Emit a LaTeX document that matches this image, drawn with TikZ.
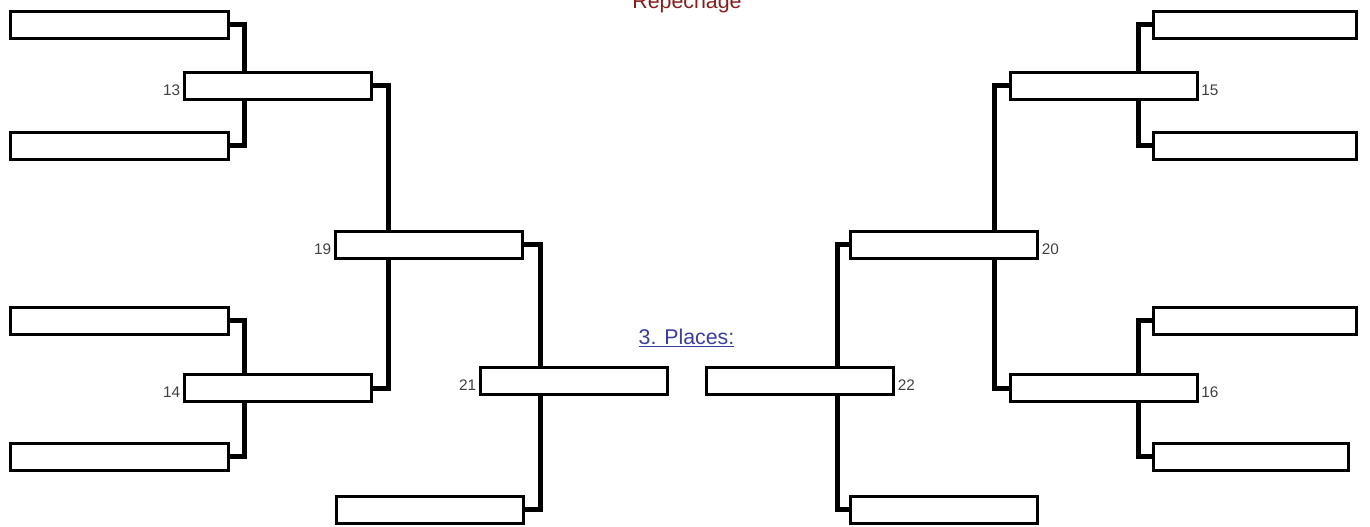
\documentclass[tikz,border=0pt]{standalone}
\usepackage{fontspec}
\setmainfont{Liberation Sans}
\usetikzlibrary{positioning,backgrounds}
\definecolor{repred}{HTML}{8B1A1A}
\definecolor{placeblue}{HTML}{3C3CA6}
\definecolor{numgray}{HTML}{404040}
\tikzset{slot/.style={draw,fill=white,line width=2.25pt,inner sep=0pt,
  minimum width=140.25pt,minimum height=20.25pt},
  outerslot/.style={slot,minimum width=163.5pt},
  rightslot/.style={slot,minimum width=152.25pt},
  link/.style={line width=3.75pt},
  num/.style={font=\fontsize{11.5}{13}\selectfont,text=numgray,inner sep=1pt},
  heading/.style={font=\fontsize{16}{19}\selectfont,inner sep=0pt}}

\begin{document}
\begin{tikzpicture}[x=0.75pt,y=-0.75pt]
\useasboundingbox (0,0) rectangle (1370,527);
\node[heading,text=repred,anchor=base] (title) at (687,8.5) {Repechage};
\node[heading,text=placeblue,anchor=base] (places) at (686.5,344) {\underline{3. Places:}};
\node[outerslot] (o1) at (119.5,25) {};
\node[outerslot] (o2) at (119.5,146) {};
\node[outerslot] (o3) at (119.5,320.5) {};
\node[outerslot] (o4) at (119.5,456.5) {};
\node[slot] (m13) at (278,86) {};
\node[slot] (m14) at (278,388) {};
\node[slot] (m19) at (429,245) {};
\node[slot] (m21) at (574,381) {};
\node[slot] (bl) at (429.5,509.5) {};
\node[slot] (m22) at (800,381) {};
\node[slot] (br) at (944,509.5) {};
\node[slot] (m20) at (944,245) {};
\node[slot] (m15) at (1103.5,86) {};
\node[slot] (m16) at (1103.5,388) {};
\node[rightslot] (o5) at (1255,25) {};
\node[rightslot] (o6) at (1255,146) {};
\node[rightslot] (o7) at (1255,320.5) {};
\node[rightslot,minimum width=146.25pt] (o8) at (1251,456.5) {};
\node[num,left=1pt of m13,yshift=-3pt] (n13) {13};
\node[num,left=1pt of m14,yshift=-3pt] (n14) {14};
\node[num,left=1pt of m19,yshift=-3pt] (n19) {19};
\node[num,left=1pt of m21,yshift=-3pt] (n21) {21};
\node[num,right=1pt of m22,yshift=-3pt] (n22) {22};
\node[num,right=1pt of m20,yshift=-3pt] (n20) {20};
\node[num,right=1pt of m15,yshift=-3pt] (n15) {15};
\node[num,right=1pt of m16,yshift=-3pt] (n16) {16};
\begin{scope}[on background layer]
\draw[link] (o1.east) -- ++(14,0) |- (o2.east);
\draw[link] (o3.east) -- ++(14,0) |- (o4.east);
\draw[link] (m13.east) -- ++(15,0) |- (m14.east);
\draw[link] (m19.east) -- ++(16,0) |- (bl.east);
\draw[link] (m20.west) -- ++(-12,0) |- (br.west);
\draw[link] (m15.west) -- ++(-14,0) |- (m16.west);
\draw[link] (o5.west) -- ++(-14,0) |- (o6.west);
\draw[link] (o7.west) -- ++(-14,0) |- (o8.west);
\end{scope}
\end{tikzpicture}
\end{document}
